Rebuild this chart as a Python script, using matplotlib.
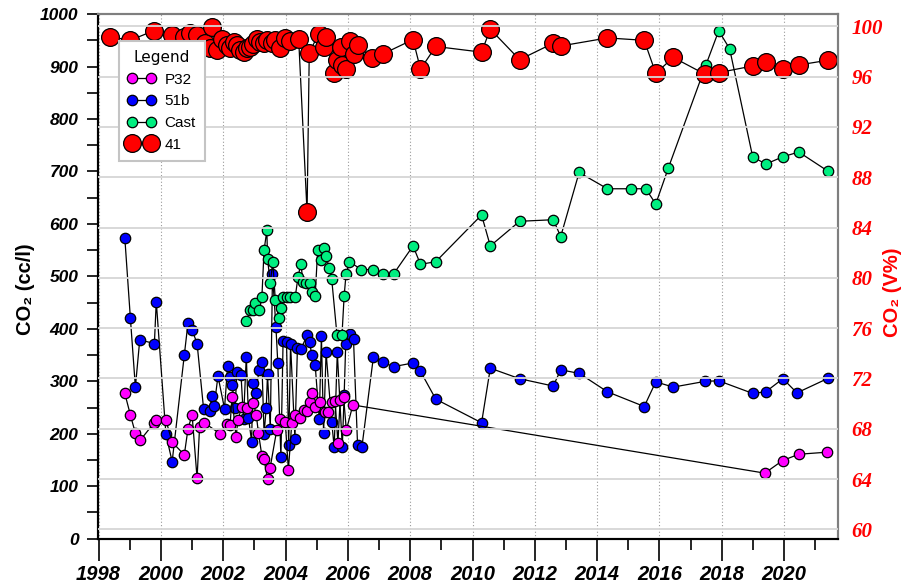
import matplotlib
matplotlib.use("Agg")
import matplotlib.pyplot as plt
from matplotlib.ticker import MultipleLocator

# Poço P32 - CO2 (cc/l)
anos_p32 = [1998.84, 1999.02, 1999.18, 1999.34, 1999.77, 1999.85, 2000.16, 2000.36, 2000.75, 2000.87,
            2001.00, 2001.16, 2001.24, 2001.39, 2001.90, 2002.12, 2002.22, 2002.28, 2002.41, 2002.47,
            2002.60, 2002.76, 2002.97, 2003.06, 2003.13, 2003.24, 2003.31, 2003.42, 2003.50, 2003.72,
            2003.83, 2003.99, 2004.09, 2004.20, 2004.30, 2004.47, 2004.58, 2004.69, 2004.79, 2004.84,
            2004.95, 2005.11, 2005.27, 2005.37, 2005.48, 2005.59, 2005.68, 2005.75, 2005.86, 2005.95,
            2006.16, 2019.38, 2019.95, 2020.47, 2021.39]
co2_p32 = [277, 236, 201, 188, 220, 226, 226, 184, 160, 210,
           236, 115, 213, 221, 200, 219, 217, 271, 193, 226,
           252, 249, 258, 236, 201, 158, 151, 114, 134, 208,
           228, 223, 131, 221, 236, 231, 245, 244, 261, 277,
           252, 261, 242, 242, 261, 263, 182, 264, 271, 207,
           255, 125, 149, 161, 165]

# Poço 51b - CO2 (cc/l)
anos_51b = [1998.84, 1999.02, 1999.18, 1999.32, 1999.79, 1999.85, 2000.16, 2000.36, 2000.75, 2000.87,
            2001.00, 2001.16, 2001.37, 2001.56, 2001.64, 2001.71, 2001.83, 2002.04, 2002.14, 2002.22,
            2002.28, 2002.38, 2002.44, 2002.57, 2002.65, 2002.74, 2002.81, 2002.91, 2002.95, 2003.04,
            2003.15, 2003.24, 2003.31, 2003.38, 2003.42, 2003.51, 2003.58, 2003.69, 2003.75, 2003.85,
            2003.92, 2004.03, 2004.10, 2004.16, 2004.30, 2004.38, 2004.50, 2004.69, 2004.77, 2004.84,
            2004.95, 2005.08, 2005.15, 2005.22, 2005.30, 2005.48, 2005.56, 2005.66, 2005.82, 2005.88,
            2005.93, 2006.07, 2006.18, 2006.31, 2006.45, 2006.82, 2007.12, 2007.47, 2008.09, 2008.33,
            2008.82, 2010.29, 2010.57, 2011.51, 2012.59, 2012.83, 2013.43, 2014.33, 2015.51, 2015.88,
            2016.44, 2017.47, 2017.90, 2018.99, 2019.41, 2019.96, 2020.41, 2021.42]
co2_51b = [574, 420, 289, 379, 372, 452, 199, 147, 350, 412,
           398, 372, 247, 243, 272, 253, 310, 248, 329, 309,
           293, 250, 318, 312, 229, 347, 231, 185, 297, 278,
           321, 336, 200, 250, 313, 210, 504, 404, 335, 156,
           377, 375, 179, 371, 191, 363, 362, 388, 374, 351,
           331, 229, 386, 201, 355, 223, 174, 355, 175, 274,
           371, 391, 380, 179, 175, 347, 336, 328, 335, 319,
           266, 221, 325, 305, 291, 322, 315, 280, 252, 299,
           289, 300, 301, 277, 280, 305, 278, 306]

# Castanheira - CO2 (cc/l)
anos_cast = [2002.74, 2002.87, 2002.95, 2003.03, 2003.15, 2003.24, 2003.31, 2003.40, 2003.42, 2003.51,
             2003.59, 2003.67, 2003.78, 2003.85, 2003.92, 2004.04, 2004.15, 2004.31, 2004.40, 2004.49,
             2004.56, 2004.66, 2004.77, 2004.84, 2004.95, 2005.03, 2005.14, 2005.22, 2005.30, 2005.40,
             2005.48, 2005.65, 2005.81, 2005.88, 2005.94, 2006.05, 2006.43, 2006.80, 2007.12, 2007.47,
             2008.09, 2008.33, 2008.82, 2010.29, 2010.57, 2011.51, 2012.59, 2012.83, 2013.42, 2014.33,
             2015.08, 2015.56, 2015.88, 2016.28, 2017.49, 2017.90, 2018.25, 2018.99, 2019.41, 2019.96,
             2020.47, 2021.42]
co2_cast = [415, 436, 435, 449, 436, 461, 550, 588, 534, 487,
            528, 455, 421, 439, 460, 461, 461, 461, 499, 524,
            490, 488, 487, 471, 463, 550, 531, 555, 539, 516,
            495, 388, 388, 463, 504, 528, 513, 513, 504, 505,
            558, 523, 528, 617, 558, 605, 608, 576, 698, 667,
            667, 667, 638, 706, 903, 968, 934, 728, 714, 728,
            737, 700]

# Poço 41 - CO2 (V%)
anos_41 = [1998.35, 1999.02, 1999.77, 2000.36, 2000.73, 2000.94, 2001.16, 2001.42, 2001.58, 2001.64,
           2001.80, 2001.96, 2002.12, 2002.22, 2002.33, 2002.44, 2002.55, 2002.65, 2002.76, 2002.87,
           2002.97, 2003.08, 2003.19, 2003.30, 2003.40, 2003.56, 2003.67, 2003.83, 2003.99, 2004.15,
           2004.42, 2004.69, 2004.76, 2005.06, 2005.22, 2005.30, 2005.56, 2005.65, 2005.78, 2005.82,
           2005.95, 2006.07, 2006.18, 2006.31, 2006.77, 2007.12, 2008.09, 2008.33, 2008.82, 2010.29,
           2010.57, 2011.51, 2012.59, 2012.83, 2014.33, 2015.51, 2015.88, 2016.44, 2017.47, 2017.90,
           2018.99, 2019.41, 2019.96, 2020.47, 2021.42]
co2_41 = [99.17, 98.90, 99.65, 99.30, 99.17, 99.44, 99.33, 98.65, 98.25, 99.97,
          98.10, 99.00, 98.50, 98.30, 98.78, 98.50, 98.10, 97.98, 98.25, 98.38,
          98.60, 99.00, 98.78, 98.70, 98.90, 98.65, 98.90, 98.30, 99.10, 98.85,
          99.00, 85.20, 97.90, 99.40, 98.37, 99.12, 96.26, 97.30, 98.37, 96.90,
          96.60, 98.83, 97.77, 98.50, 97.45, 97.80, 98.95, 96.60, 98.40, 97.95,
          99.78, 97.35, 98.66, 98.44, 99.08, 98.89, 96.26, 97.53, 96.18, 96.32,
          96.85, 97.18, 96.58, 96.93, 97.31]

anos_rotulos = list(range(1998, 2021, 2))

fonte_eixo = ["Liberation Sans Narrow", "Liberation Sans", "DejaVu Sans"]
fonte_serif = ["Liberation Serif", "DejaVu Serif"]

fig = plt.figure(figsize=(9.09, 5.85), dpi=100)
ax = fig.add_axes([0.1078, 0.0791, 0.8138, 0.8969])
ax2 = ax.twinx()

estilo = dict(ls="-", lw=0.9, color="black", mec="black", mew=0.9)
l_p32, = ax.plot(anos_p32, co2_p32, marker="o", ms=7.5, mfc="#ff00ff", zorder=3, **estilo)
l_51b, = ax.plot(anos_51b, co2_51b, marker="o", ms=7.5, mfc="#0000ff", zorder=2.8, **estilo)
l_cast, = ax.plot(anos_cast, co2_cast, marker="o", ms=7.5, mfc="#00ee80", zorder=3.2, **estilo)
l_41, = ax2.plot(anos_41, co2_41, marker="o", ms=12.8, mfc="#ff0000", zorder=2, **estilo)

# eixo X
ax.set_xlim(1997.98, 2021.72)
ax.set_xticks(anos_rotulos)
ax.xaxis.set_minor_locator(MultipleLocator(1))
ax.tick_params(axis="x", which="major", direction="out", length=16, width=1.2, pad=3)
ax.tick_params(axis="x", which="minor", direction="out", length=8, width=1.2)
for t in ax.get_xticklabels():
    t.set_fontfamily(fonte_eixo)
    t.set_fontsize(14.5)
    t.set_fontweight("bold")
    t.set_fontstyle("italic")
ax.grid(axis="x", which="major", ls=(0, (1, 2)), color="#9a9a9a", lw=0.8)

# eixo Y esquerdo (cc/l)
ax.set_ylim(0, 1000)
ax.yaxis.set_major_locator(MultipleLocator(100))
ax.yaxis.set_minor_locator(MultipleLocator(50))
ax.tick_params(axis="y", which="both", direction="out", length=8, width=1.2, pad=6)
for t in ax.get_yticklabels():
    t.set_fontfamily(fonte_eixo)
    t.set_fontsize(12.5)
    t.set_fontweight("bold")
    t.set_fontstyle("italic")

# eixo Y direito (V%)
ax2.set_ylim(59.25, 100.98)
ax2.yaxis.set_major_locator(MultipleLocator(4))
ax2.tick_params(axis="y", length=0, pad=10)
for t in ax2.get_yticklabels():
    t.set_fontfamily(fonte_serif)
    t.set_fontsize(15)
    t.set_fontweight("bold")
    t.set_fontstyle("italic")
    t.set_color("#ff0000")
ax2.set_axisbelow(False)
ax2.grid(axis="y", color="#d6d6d6", lw=1.3)

for a in (ax, ax2):
    a.spines["left"].set_color("black")
    a.spines["bottom"].set_color("black")
    a.spines["top"].set_color("#7f7f7f")
    a.spines["right"].set_color("#7f7f7f")
    for s in a.spines.values():
        s.set_linewidth(1.5)

fig.text(0.028, 0.505, "CO₂ (cc/l)", rotation=90, ha="center", va="center",
         fontsize=14.5, fontweight="bold", family=["Liberation Sans", "DejaVu Sans"])
fig.text(0.982, 0.50, "CO₂ (V%)", rotation=90, ha="center", va="center", color="#ff0000",
         fontsize=14.5, fontweight="bold", family=["Liberation Sans", "DejaVu Sans"])

leg = ax2.legend([l_p32, l_51b, l_cast, l_41], ["P32", "51b", "Cast", "41"],
                 title="Legend", loc="upper left", bbox_to_anchor=(0.028, 0.949),
                 borderaxespad=0, numpoints=2, fancybox=False, framealpha=1,
                 edgecolor="#c4c4c4", title_fontsize=11,
                 handlelength=1.8, handletextpad=0.6, labelspacing=0.5,
                 borderpad=0.6, prop={"family": ["Liberation Sans", "DejaVu Sans"], "size": 11})
leg.get_frame().set_linewidth(1.5)
leg.set_zorder(10)

fig.savefig("out.png", dpi=100)
